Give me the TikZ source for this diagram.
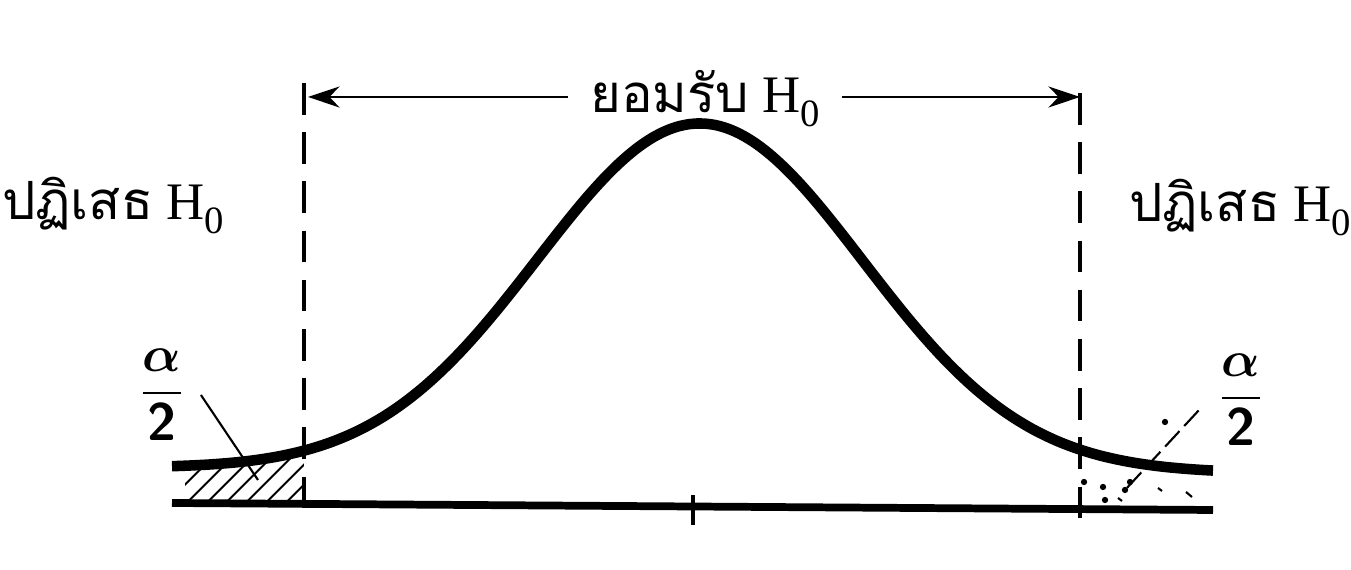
\documentclass[tikz,border=0pt]{standalone}
\usepackage{amsmath}
\usepackage{bm}
\usepackage{fontspec}
\setmainfont{Liberation Serif}
\newfontfamily\thaifont[Script=Thai]{Loma}
\usetikzlibrary{arrows.meta,patterns.meta}
\newcommand\Hnull{H\raisebox{-0.55ex}{\fontsize{11}{11}\selectfont 0}}
\newcommand\halfalpha{$\dfrac{\bm{\alpha}}{\text{\sffamily\bfseries 2}}$}

\begin{document}
\begin{tikzpicture}[line width=.8pt,
  declare function={bell(\x)=4.68+0.05*(\x-1.72)/10.41-3.47*exp(-((\x-7.00)^2)/5.3);},
  thaitext/.style={font=\fontsize{15}{18}\selectfont,inner ysep=0pt,inner xsep=6pt},
  fracnode/.style={font=\fontsize{15}{15}\selectfont,inner sep=0pt},
  dashline/.style={line width=1.1pt,dash pattern=on 9pt off 5pt},
  arr/.style={-{Stealth[length=9pt,width=6pt]},line width=.7pt},
  leader/.style={line width=.6pt}]
\useasboundingbox (0,0) rectangle (13.51,-5.70);
% limits and axis
\coordinate (topL) at (3.04,-0.83); \coordinate (botL) at (3.04,-5.18);
\coordinate (topR) at (10.80,-0.93); \coordinate (botR) at (10.80,-5.27);
\coordinate (tipL) at (3.08,-0.97); \coordinate (tipR) at (10.80,-0.97);
\coordinate (axL) at (1.72,-5.03); \coordinate (axR) at (12.13,-5.10);
% shaded tails
\fill[pattern={Lines[angle=45,distance=4pt,line width=.6pt]}] plot[domain=1.85:3.04,samples=20] (\x,{-bell(\x)}) -- (3.04,-5.03) -- (1.85,-5.03) -- cycle;
\foreach \p in {(10.84,-4.82),(11.03,-4.87),(11.25,-4.90),(11.30,-4.82),(11.65,-4.22),(11.05,-5.00)}
  \fill \p circle (0.9pt);
\draw[line width=.6pt] (11.58,-4.88) -- (11.62,-4.91) (11.86,-4.92) -- (11.92,-4.97) (11.18,-4.98) -- (11.22,-5.01);
\draw[line width=2.2pt] (axL) -- (axR);
\draw[line width=1.2pt] (6.93,-4.95) -- (6.93,-5.25);
\draw[dashline] (topL) -- (botL); \draw[dashline] (topR) -- (botR);
\draw[line width=3pt] plot[domain=1.72:12.13,samples=120,smooth] (\x,{-bell(\x)});
% labels
\node[thaitext,anchor=base] (accept) at (7.05,-1.13) {{\thaifont ยอมรับ} \Hnull};
\draw[arr] (accept.west |- tipL) -- (tipL); \draw[arr] (accept.east |- tipR) -- (tipR);
\node[thaitext,anchor=base] (rejL) at (1.13,-2.20) {{\thaifont ปฏิเสธ} \Hnull};
\node[thaitext,anchor=base] (rejR) at (12.40,-2.22) {{\thaifont ปฏิเสธ} \Hnull};
\node[fracnode] (alphaL) at (1.62,-3.95) {\halfalpha};
\node[fracnode] (alphaR) at (12.41,-4.00) {\halfalpha};
\coordinate (pinL) at (2.58,-4.80); \coordinate (pinR) at (11.25,-4.90);
\draw[leader] ([xshift=4pt]alphaL.east) -- (pinL);
\draw[leader,dash pattern=on 6pt off 2pt] ([shift={(-5pt,-3pt)}]alphaR.west) -- (pinR);
\end{tikzpicture}
\end{document}
